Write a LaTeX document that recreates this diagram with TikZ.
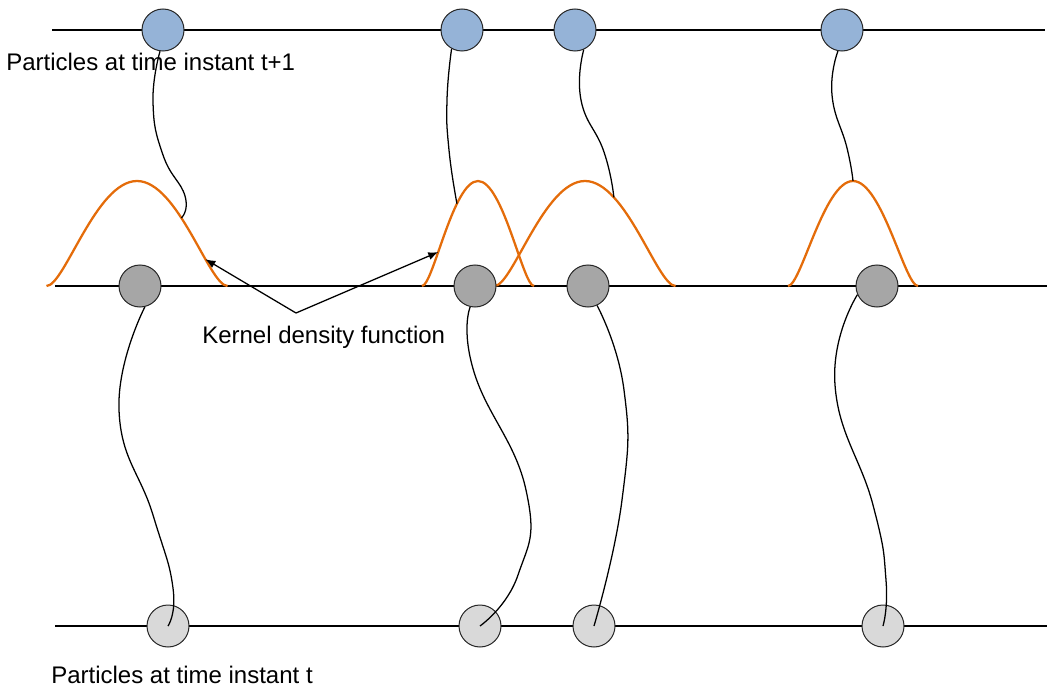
\documentclass[tikz,border=0pt]{standalone}
\usepackage{fontspec}
\setmainfont{Liberation Sans}
\usetikzlibrary{arrows.meta}
\definecolor{partblue}{RGB}{149,179,215}
\definecolor{partgray}{RGB}{166,166,166}
\definecolor{partlight}{RGB}{217,217,217}
\definecolor{kernorange}{RGB}{228,108,10}

\begin{document}
\begin{tikzpicture}[
            x = 0.75pt, y = -0.75pt,
            > = {Latex[length=7.5pt,width=6pt]},
  track/.style = {line width=1.1pt},
particle/.style = {circle, draw=black!85, line width=0.75pt,
                 minimum size=31.5pt, inner sep=0pt},
 kernel/.style = {line width=1.7pt, kernorange},
  drift/.style = {line width=0.95pt},
    txt/.style = {font=\fontsize{18}{21}\selectfont, inner sep=0pt, anchor=base west}
                        ]
\useasboundingbox (0,0) rectangle (1047,692);
% time lines
    \draw[track] (52,30) -- (1045,30);
    \draw[track] (55,286) -- (1047,286);
    \draw[track] (55,626) -- (1047,626);
% kernels, halves are bezier curves
    \draw[kernel] (46.5,286) .. controls +(18,0) and +(-41,0) .. (137,181)
                  .. controls +(41,0) and +(-18,0) .. (227.5,286)
                  coordinate[pos=0.4] (k1a) coordinate[pos=0.67] (k1t);
    \draw[kernel] (422,286) .. controls +(11,0) and +(-25,0) .. (478,181)
                  coordinate[pos=0.7] (k2a) coordinate[pos=0.38] (k2t)
                  .. controls +(25,0) and +(-11,0) .. (534,286);
    \draw[kernel] (494.5,286) .. controls +(18,0) and +(-41,0) .. (585,181)
                  .. controls +(41,0) and +(-18,0) .. (675.5,286)
                  coordinate[pos=0.25] (k3a);
    \draw[kernel] (788,286) .. controls +(13,0) and +(-29,0) .. (853,181)
                  coordinate (k4p)
                  .. controls +(29,0) and +(-13,0) .. (918,286);
% particles
\foreach \n/\x in {1/163, 2/462, 3/575, 4/842}
    \node[particle, fill=partblue] (t\n) at (\x,30) {};
\foreach \n/\x in {1/140, 2/475, 3/588, 4/877}
    \node[particle, fill=partgray] (m\n) at (\x,286) {};
\foreach \n/\x in {1/168, 2/480, 3/594, 4/883}
    \node[particle, fill=partlight] (b\n) at (\x,626) {};
% texts
    \node[txt] (top) at (6,71) {Particles at time instant t+1};
    \node[txt] (bot) at (51,683) {Particles at time instant t};
    \node[txt] (kdf) at (202,343) {Kernel density function};
% transitions
\begin{scope}[drift, smooth, tension=0.85]
    \draw plot coordinates {(t1.-98) (153,102) (163,155) (185,196) (k1a)};
    \draw plot coordinates {(t2.-119) (447,100) (449,150) (k2a)};
    \draw plot coordinates {(t3.-66) (581,100) (604,152) (k3a)};
    \draw plot coordinates {(t4.-101) (832,95) (847,148) (k4p)};
    \draw plot coordinates {(m1.-77) (119,410) (153,515) (173,588) (b1.center)};
    \draw plot coordinates {(m2.-103) (474,372) (526,490) (518,575) (b2.center)};
    \draw plot coordinates {(m3.-65) (624,390) (622,500) (b3.center)};
    \draw plot coordinates {(m4.-156) (835,385) (873,505) (886,580) (b4.center)};
\end{scope}
% pointers to the kernels
    \coordinate (kt) at (296,313);
    \draw[->, line width=0.95pt] (kt) -- (k1t);
    \draw[->, line width=0.95pt] (kt) -- (k2t);
\end{tikzpicture}
\end{document}
